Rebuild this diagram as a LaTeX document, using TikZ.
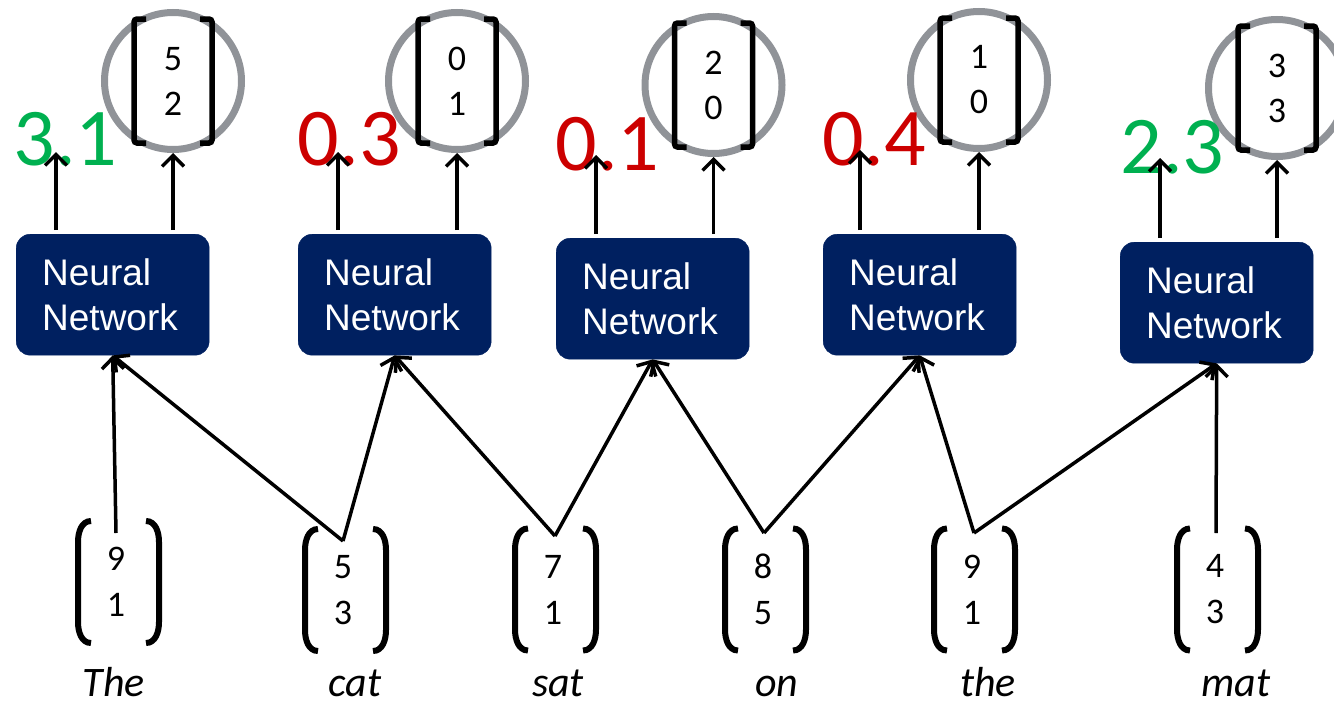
\documentclass[tikz,border=0pt]{standalone}
\usepackage{fontspec}
\setmainfont{Carlito}
\newfontfamily\arialfont{Liberation Sans}
\usetikzlibrary{arrows.meta}
\definecolor{navy}{HTML}{002060}
\definecolor{ringgray}{HTML}{909398}
\definecolor{scoregreen}{HTML}{00B050}
\definecolor{scorered}{HTML}{CC0000}
\newcommand\sqbrackets[1]{%
  \draw[bracket] ([shift={(-27,-62)}]#1.center) -- ++(-12,0) -- ++(0,124) -- ++(12,0);
  \draw[bracket] ([shift={(27,-62)}]#1.center) -- ++(12,0) -- ++(0,124) -- ++(-12,0);}
\newcommand\rdparens[1]{%
  \begin{scope}[shift={(#1.center)}]
    \draw[paren] (-25,-61) to[out=180,in=90] (-38,-40) -- (-38,40) to[out=-90,in=180] (-25,61);
    \draw[paren] (30,-61) to[out=0,in=90] (43,-40) -- (43,40) to[out=-90,in=0] (30,61);
  \end{scope}}
\begin{document}
\begin{tikzpicture}[x=1pt,y=-1pt,
  nnbox/.style={fill=navy, draw=navy, rounded corners=14pt, text width=141pt,
    inner xsep=26pt, inner ysep=0pt, minimum height=121pt, anchor=north west,
    align=left, text=white, font=\arialfont\fontsize{37}{45}\selectfont},
  ring/.style={draw=ringgray, line width=7pt, circle, minimum size=137pt, inner sep=0pt,
    align=center, font=\fontsize{36}{45}\selectfont},
  vecnum/.style={align=center, font=\fontsize{36}{46}\selectfont, inner sep=0pt},
  score/.style={anchor=base, font=\fontsize{82}{82}\selectfont, inner sep=0pt},
  word/.style={anchor=base, font=\itshape\fontsize{42}{50}\selectfont, inner sep=0pt},
  conn/.style={line width=3.5pt, -{Straight Barb[length=11pt,width=22pt]}},
  upconn/.style={conn, shorten <=4pt},
  bracket/.style={line width=5.5pt, rounded corners=3pt},
  paren/.style={line width=6pt}
]
\path[use as bounding box] (0,0) rectangle (1334,704);

% output circles
\node[ring] (c1) at (173,81) {5\\2};
\node[ring] (c2) at (457,81) {0\\1};
\node[ring] (c3) at (713.5,85) {2\\0};
\node[ring] (c4) at (979,80) {1\\0};
\node[ring] (c5) at (1277,88) {3\\3};
\sqbrackets{c1}\sqbrackets{c2}\sqbrackets{c3}\sqbrackets{c4}\sqbrackets{c5}

% scores
\node[score, text=scoregreen] (s1) at (65.5,165) {3.1};
\node[score, text=scorered] (s2) at (349,165) {0.3};
\node[score, text=scorered] (s3) at (607.5,170) {0.1};
\node[score, text=scorered] (s4) at (874,165) {0.4};
\node[score, text=scoregreen] (s5) at (1172.5,173) {2.3};

% boxes
\node[nnbox] (b1) at (16,234) {Neural\\Network};
\node[nnbox] (b2) at (298,234) {Neural\\Network};
\node[nnbox] (b3) at (556,238) {Neural\\Network};
\node[nnbox] (b4) at (823,234) {Neural\\Network};
\node[nnbox] (b5) at (1120,242) {Neural\\Network};

% arrow tips under scores
\coordinate (t1) at (56,152);
\coordinate (t2) at (338,152);
\coordinate (t3) at (596,155);
\coordinate (t4) at (860,150);
\coordinate (t5) at (1160,158);

\foreach \i in {1,...,5}{
  \draw[upconn] (b\i.north -| t\i) -- (t\i);
  \draw[upconn] (b\i.north -| c\i.south) -- (c\i.south);
}

% input vectors
\node[vecnum] (v1) at (116,582) {9\\1};
\node[vecnum] (v2) at (343,590) {5\\3};
\node[vecnum] (v3) at (553,589.5) {7\\1};
\node[vecnum] (v4) at (763,589.5) {8\\5};
\node[vecnum] (v5) at (972,589.5) {9\\1};
\node[vecnum] (v6) at (1215,589.5) {4\\3};
\rdparens{v1}\rdparens{v2}\rdparens{v3}\rdparens{v4}\rdparens{v5}\rdparens{v6}

% words
\node[word] (w1) at (114,696) {The};
\node[word] (w2) at (355,696) {cat};
\node[word] (w3) at (558,696) {sat};
\node[word] (w4) at (777,696) {on};
\node[word] (w5) at (988,696) {the};
\node[word] (w6) at (1236,696) {mat};

% connectors
\coordinate (p1) at (116,533);
\coordinate (p2) at (343,541);
\coordinate (p3) at (555,536);
\coordinate (p4) at (764,533);
\coordinate (p5) at (974,533);
\coordinate (p6) at (1216,533);
\draw[conn] (p1) -- (b1.south);
\draw[conn] (p2) -- (b1.south);
\draw[conn] (p2) -- (b2.south);
\draw[conn] (p3) -- (b2.south);
\draw[conn] (p3) -- (b3.south);
\draw[conn] (p4) -- (b3.south);
\draw[conn] (p4) -- (b4.south);
\draw[conn] (p5) -- (b4.south);
\draw[conn] (p5) -- (b5.south);
\draw[conn] (p6) -- (b5.south);
\end{tikzpicture}
\end{document}
